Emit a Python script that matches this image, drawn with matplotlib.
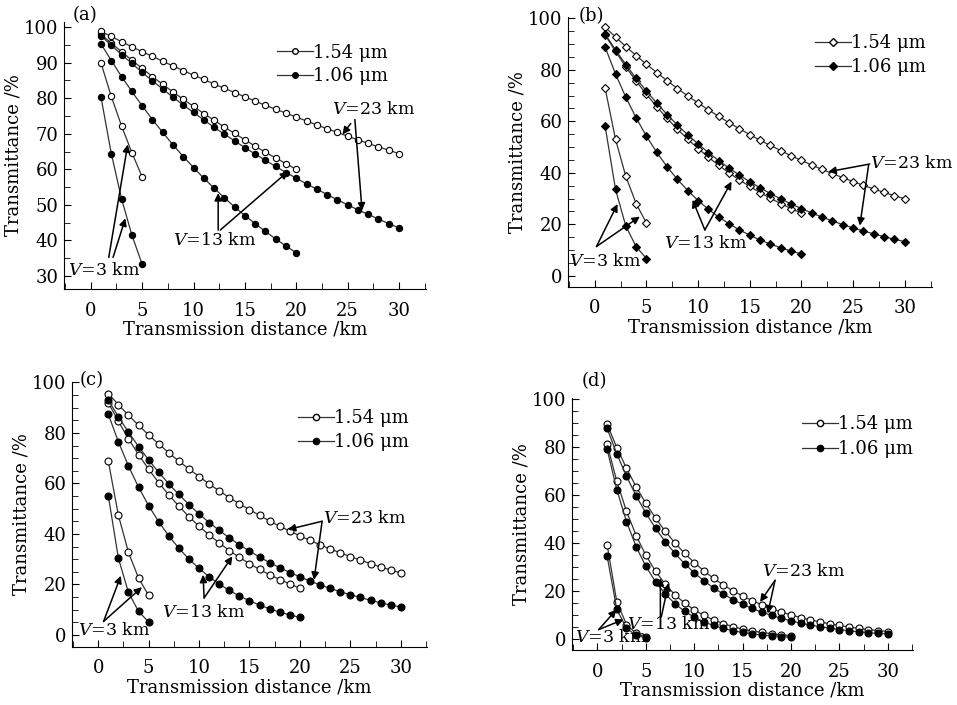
import matplotlib
matplotlib.use("Agg")
import matplotlib.pyplot as plt
from matplotlib.lines import Line2D
from matplotlib.ticker import MultipleLocator

plt.rcParams['font.family'] = ['DejaVu Serif']
plt.rcParams['mathtext.fontset'] = 'dejavuserif'

# distances (km)
dist_3 = [1, 2, 3, 4, 5]
dist_13 = list(range(1, 21))
dist_23 = list(range(1, 31))

# (a)
a_154_v3 = [89.9, 80.5, 72.2, 64.7, 57.9]
a_106_v3 = [80.3, 64.4, 51.7, 41.5, 33.3]
a_154_v13 = [98.0, 95.5, 93.1, 90.7, 88.4, 86.1, 83.9, 81.8, 79.7, 77.7,
             75.7, 73.8, 71.9, 70.1, 68.3, 66.5, 64.8, 63.2, 61.6, 60.0]
a_106_v13 = [95.3, 90.6, 86.1, 81.9, 77.9, 74.0, 70.4, 66.9, 63.6, 60.5,
             57.5, 54.7, 52.0, 49.4, 47.0, 44.7, 42.5, 40.4, 38.4, 36.5]
a_154_v23 = [98.8, 97.4, 95.9, 94.5, 93.1, 91.8, 90.4, 89.1, 87.8, 86.5,
             85.3, 84.0, 82.8, 81.6, 80.4, 79.2, 78.0, 76.9, 75.8, 74.7,
             73.6, 72.5, 71.4, 70.4, 69.3, 68.3, 67.3, 66.3, 65.4, 64.4]
a_106_v23 = [97.6, 94.9, 92.3, 89.8, 87.3, 84.9, 82.6, 80.3, 78.1, 76.0,
             73.9, 71.8, 69.9, 68.0, 66.1, 64.3, 62.5, 60.8, 59.1, 57.5,
             55.9, 54.4, 52.9, 51.4, 50.0, 48.6, 47.3, 46.0, 44.7, 43.5]

# (b)
b_154_v3 = [72.8, 53.0, 38.6, 28.0, 20.4]
b_106_v3 = [58.0, 33.6, 19.3, 11.3, 6.7]
b_154_v13 = [93.5, 87.1, 81.1, 75.6, 70.4, 65.6, 61.1, 56.9, 53.0, 49.4,
             46.0, 42.9, 39.9, 37.2, 34.7, 32.3, 30.1, 28.0, 26.1, 24.3]
b_106_v13 = [88.7, 78.4, 69.3, 61.3, 54.2, 47.9, 42.3, 37.4, 33.1, 29.2,
             25.8, 22.8, 20.2, 17.8, 15.8, 13.9, 12.3, 10.9, 9.6, 8.5]
b_154_v23 = [96.5, 92.7, 89.0, 85.5, 82.1, 78.9, 75.7, 72.7, 69.8, 67.1,
             64.4, 61.9, 59.4, 57.1, 54.8, 52.6, 50.6, 48.6, 46.6, 44.8,
             43.0, 41.3, 39.7, 38.1, 36.6, 35.1, 33.7, 32.4, 31.1, 29.9]
b_106_v23 = [93.8, 87.7, 82.0, 76.6, 71.7, 67.0, 62.6, 58.5, 54.7, 51.2,
             47.8, 44.7, 41.8, 39.1, 36.5, 34.2, 31.9, 29.9, 27.9, 26.1,
             24.4, 22.8, 21.3, 19.9, 18.6, 17.4, 16.3, 15.2, 14.2, 13.3]

# (c)
c_154_v3 = [68.9, 47.4, 32.7, 22.5, 15.6]
c_106_v3 = [55.2, 30.4, 16.8, 9.3, 5.1]
c_154_v13 = [92.0, 84.6, 77.7, 71.4, 65.6, 60.3, 55.4, 51.0, 46.8, 43.0,
             39.6, 36.4, 33.4, 30.7, 28.2, 25.9, 23.8, 21.9, 20.1, 18.5]
c_106_v13 = [87.4, 76.5, 66.9, 58.5, 51.2, 44.8, 39.2, 34.3, 30.0, 26.3,
             23.0, 20.1, 17.6, 15.4, 13.5, 11.8, 10.3, 9.0, 7.9, 6.9]
c_154_v23 = [95.6, 91.2, 87.0, 83.0, 79.2, 75.6, 72.1, 68.8, 65.7, 62.7,
             59.8, 57.0, 54.4, 51.9, 49.6, 47.3, 45.1, 43.0, 41.1, 39.2,
             37.4, 35.7, 34.0, 32.5, 31.0, 29.6, 28.2, 26.9, 25.7, 24.5]
c_106_v23 = [93.0, 86.4, 80.3, 74.6, 69.3, 64.4, 59.8, 55.6, 51.6, 47.9,
             44.5, 41.4, 38.4, 35.7, 33.2, 30.8, 28.6, 26.6, 24.7, 23.0,
             21.3, 19.8, 18.4, 17.1, 15.9, 14.8, 13.7, 12.7, 11.8, 11.0]

# (d)
d_154_v3 = [39.3, 15.5, 6.1, 2.4, 1.0]
d_106_v3 = [34.6, 12.4, 4.5, 1.6, 0.6]
d_154_v13 = [81.1, 65.7, 53.2, 43.1, 34.9, 28.3, 22.9, 18.5, 15.0, 12.2,
             9.9, 8.0, 6.5, 5.2, 4.2, 3.4, 2.8, 2.3, 1.8, 1.5]
d_106_v13 = [79.0, 62.2, 48.9, 38.5, 30.3, 23.9, 18.8, 14.8, 11.6, 9.2,
             7.2, 5.7, 4.5, 3.5, 2.8, 2.2, 1.7, 1.4, 1.1, 0.8]
d_154_v23 = [89.4, 79.7, 71.1, 63.4, 56.5, 50.4, 44.9, 40.1, 35.7, 31.9,
             28.4, 25.3, 22.6, 20.1, 18.0, 16.0, 14.3, 12.7, 11.3, 10.1,
             9.0, 8.0, 7.2, 6.4, 5.7, 5.1, 4.5, 4.0, 3.6, 3.2]
d_106_v23 = [87.7, 77.1, 67.8, 59.6, 52.5, 46.1, 40.6, 35.7, 31.4, 27.6,
             24.3, 21.3, 18.8, 16.5, 14.5, 12.8, 11.2, 9.9, 8.7, 7.6,
             6.7, 5.9, 5.2, 4.6, 4.0, 3.5, 3.1, 2.7, 2.4, 2.1]

panels = [
    ("(a)", [a_154_v3, a_154_v13, a_154_v23], [a_106_v3, a_106_v13, a_106_v23]),
    ("(b)", [b_154_v3, b_154_v13, b_154_v23], [b_106_v3, b_106_v13, b_106_v23]),
    ("(c)", [c_154_v3, c_154_v13, c_154_v23], [c_106_v3, c_106_v13, c_106_v23]),
    ("(d)", [d_154_v3, d_154_v13, d_154_v23], [d_106_v3, d_106_v13, d_106_v23]),
]
dists = [dist_3, dist_13, dist_23]

# layout / style
axes_rects = [
    [0.0669, 0.590, 0.378, 0.379],
    [0.5935, 0.593, 0.380, 0.383],
    [0.0752, 0.0823, 0.371, 0.376],
    [0.598, 0.078, 0.356, 0.357],
]
ylims = [(26.3, 101.5), (-4.3, 100.5), (-4.8, 100.2), (-4.5, 100.2)]
ymajor = [10, 20, 20, 20]
markers = ['o', 'D', 'o', 'o']
msizes = [4.5, 4.2, 5, 5]
legend_pos = [(0.588, 0.918), (0.679, 0.935), (0.636, 0.896), (0.674, 0.933)]
legend_spacing = [0.3, 0.3, 0.3, 0.4]
panel_label_pos = [(-1.8, 103.4), (-1.6, 101.0), (-1.8, 100.8), (-1.6, 107.5)]

# annotations: (text, text_xy, [(tail, head), ...])
notes = [
    [("23", (23.5, 76.8), [((25.3, 72.9), (24.5, 69.8)), ((25.7, 74.0), (26.4, 48.4))]),
     ("13", (8.0, 39.9), [((12.4, 42.9), (12.4, 53.3)), ((12.6, 42.9), (19.2, 59.4))]),
     ("3", (-2.2, 31.4), [((1.75, 35.2), (3.6, 67.0)), ((2.17, 35.2), (3.37, 46.2))])],
    [("23", (26.6, 43.7), [((26.6, 43.4), (22.6, 40.4)), ((26.5, 43.0), (25.65, 19.5))]),
     ("13", (6.7, 12.7), [((10.65, 17.8), (9.46, 29.5)), ((10.65, 17.8), (13.23, 36.6))]),
     ("3", (-2.5, 5.5), [((0.16, 11.4), (2.2, 27.9)), ((0.16, 11.4), (4.36, 23.0))])],
    [("23", (22.3, 45.9), [((22.2, 45.0), (18.8, 41.7)), ((22.2, 45.0), (21.4, 21.8))]),
     ("13", (6.3, 8.9), [((10.5, 14.6), (10.4, 23.8)), ((10.5, 14.6), (13.3, 31.1))]),
     ("3", (-2.0, 1.6), [((0.53, 5.3), (2.25, 23.4)), ((0.53, 5.3), (4.34, 18.9))])],
    [("23", (17.0, 28.3), [((18.35, 24.5), (16.8, 15.5)), ((18.35, 24.5), (17.6, 10.7))]),
     ("13", (3.06, 6.2), [((6.5, 9.3), (6.5, 25.4)), ((6.6, 9.3), (7.35, 23.4))]),
     ("3", (-2.27, 0.7), [((0.13, 4.0), (1.96, 12.3)), ((0.13, 4.0), (2.7, 8.2))])],
]

fig = plt.figure(figsize=(9.57, 7.05), dpi=100)

for i, (label, open_series, filled_series) in enumerate(panels):
    ax = fig.add_axes(axes_rects[i])
    mk = markers[i]
    ms = msizes[i]
    for d, y in zip(dists, open_series):
        ax.plot(d, y, '-', color='#333333', lw=0.9, marker=mk, ms=ms,
                mfc='white', mec='black', mew=0.8)
    for d, y in zip(dists, filled_series):
        ax.plot(d, y, '-', color='#333333', lw=0.9, marker=mk, ms=ms,
                mfc='black', mec='black', mew=0.8)

    ax.set_xlim(-2.6, 32.6)
    ax.set_ylim(*ylims[i])
    ax.spines['top'].set_visible(False)
    ax.spines['right'].set_visible(False)
    ax.xaxis.set_major_locator(MultipleLocator(5))
    ax.xaxis.set_minor_locator(MultipleLocator(2.5))
    ax.yaxis.set_major_locator(MultipleLocator(ymajor[i]))
    ax.yaxis.set_minor_locator(MultipleLocator(5))
    ax.tick_params(which='both', direction='in', labelsize=13)
    ax.tick_params(axis='x', pad=9)
    ax.tick_params(axis='y', pad=4)
    ax.tick_params(which='major', length=5)
    ax.tick_params(which='minor', length=4)
    ax.set_xlabel('Transmission distance /km', fontsize=13, labelpad=1)
    ax.set_ylabel('Transmittance /%', fontsize=13, labelpad=1)

    handles = [
        Line2D([], [], color='#333333', lw=0.9, marker=mk, ms=ms - 0.5,
               mfc='white', mec='black'),
        Line2D([], [], color='#333333', lw=0.9, marker=mk, ms=ms - 0.5,
               mfc='black', mec='black'),
    ]
    ax.legend(handles, ['1.54 μm', '1.06 μm'], loc='upper left',
              bbox_to_anchor=legend_pos[i], frameon=False, fontsize=13,
              handlelength=2.0, handletextpad=0.0, borderpad=0,
              borderaxespad=0, labelspacing=legend_spacing[i])

    ax.text(panel_label_pos[i][0], panel_label_pos[i][1], label,
            fontsize=13, ha='left', va='center', clip_on=False)

    for vis, txy, arrows in notes[i]:
        ax.text(txy[0], txy[1], r'$V$=' + vis + ' km', fontsize=12.5,
                ha='left', va='center', clip_on=False)
        for tail, head in arrows:
            ax.annotate('', xy=head, xytext=tail, annotation_clip=False,
                        arrowprops=dict(arrowstyle='-|>', lw=1.1,
                                        color='black', mutation_scale=11,
                                        shrinkA=0, shrinkB=0))

fig.savefig('out.png', dpi=100)
